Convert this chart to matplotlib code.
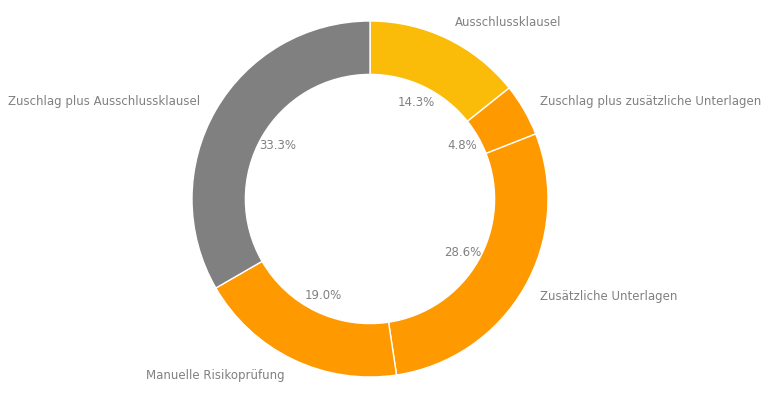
import matplotlib.pyplot as plt

labels = ["Ausschlussklausel", "Zuschlag plus zusätzliche Unterlagen",
          "Zusätzliche Unterlagen", "Manuelle Risikoprüfung",
          "Zuschlag plus Ausschlussklausel"]
counts = [3, 1, 6, 4, 7]
colors = ["#FBBC09", "#FF9900", "#FF9900", "#FF9900", "#808080"]

fig = plt.figure(figsize=(7.68, 3.99), dpi=100)
ax = fig.add_axes([0, 0, 1, 1])
wedges, texts, autotexts = ax.pie(
    counts, labels=labels, colors=colors, autopct="%1.1f%%",
    startangle=90, counterclock=False,
    wedgeprops=dict(width=0.3, edgecolor="white", linewidth=1),
    textprops=dict(color="#808080", fontsize=8.5),
)
ax.set_aspect("auto")
ax.set_xlim(-370 / 178, 398 / 178)
ax.set_ylim(-200 / 178, 199 / 178)
ax.axis("off")

fig.savefig("out.png", dpi=100)
